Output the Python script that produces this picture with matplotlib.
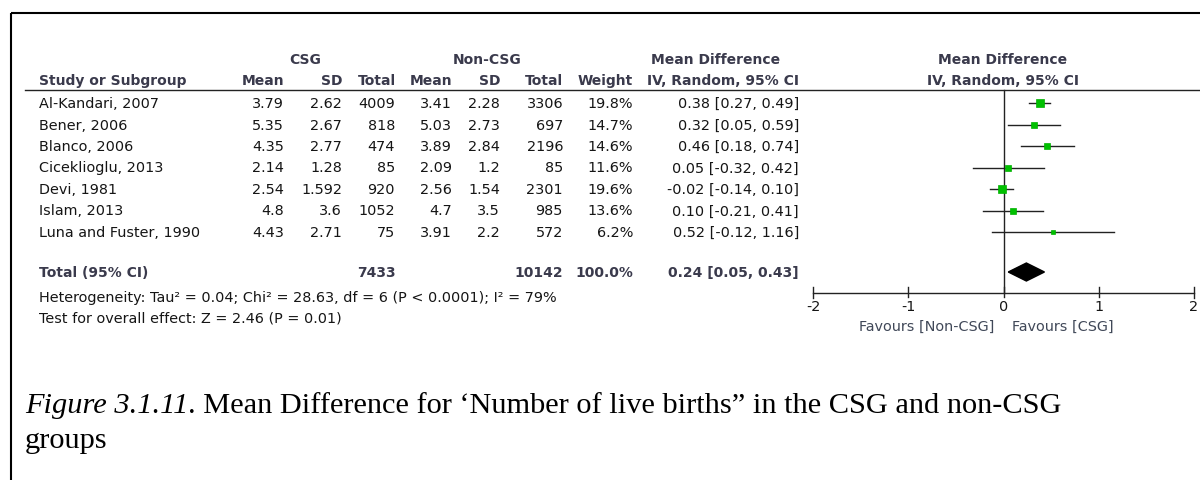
"""Forest plot: mean difference in number of live births, CSG vs non-CSG."""

import matplotlib
matplotlib.use("Agg")
import matplotlib.pyplot as plt
from matplotlib.patches import Polygon

# ---- data -------------------------------------------------------------
studies = [
    "Al-Kandari, 2007", "Bener, 2006", "Blanco, 2006", "Cicekliogu, 2013",
    "Devi, 1981", "Islam, 2013", "Luna and Fuster, 1990",
]
studies[3] = "Cicekliogl" + "u, 2013"
csg_mean = ["3.79", "5.35", "4.35", "2.14", "2.54", "4.8", "4.43"]
csg_sd = ["2.62", "2.67", "2.77", "1.28", "1.592", "3.6", "2.71"]
csg_n = [4009, 818, 474, 85, 920, 1052, 75]
non_mean = ["3.41", "5.03", "3.89", "2.09", "2.56", "4.7", "3.91"]
non_sd = ["2.28", "2.73", "2.84", "1.2", "1.54", "3.5", "2.2"]
non_n = [3306, 697, 2196, 85, 2301, 985, 572]
weight = [19.8, 14.7, 14.6, 11.6, 19.6, 13.6, 6.2]
md = [0.38, 0.32, 0.46, 0.05, -0.02, 0.10, 0.52]
lo = [0.27, 0.05, 0.18, -0.32, -0.14, -0.21, -0.12]
hi = [0.49, 0.59, 0.74, 0.42, 0.10, 0.41, 1.16]
total_csg, total_non = 7433, 10142
pooled, pooled_lo, pooled_hi = 0.24, 0.05, 0.43
x_ticks = [-2, -1, 0, 1, 2]

HEAD = "#3a3a4c"
TXT = "#151515"
SANS = "DejaVu Sans"

W, H = 1200, 481
fig = plt.figure(figsize=(W / 100, H / 100), dpi=100)
ax = fig.add_axes([0, 0, 1, 1])
ax.set_xlim(0, W)
ax.set_ylim(H, 0)
ax.axis("off")

# frame (top + left only, as in the document page)
ax.plot([11, W], [14, 14], color="black", lw=1.5, solid_capstyle="butt")
ax.plot([11, 11], [14, H], color="black", lw=1.5, solid_capstyle="butt")

fs = 10.4
hkw = dict(fontsize=10.0, fontweight="bold", color=HEAD, family=SANS, va="center")
# header row 1
ax.text(305, 60, "CSG", ha="center", **hkw)
ax.text(487, 60, "Non-CSG", ha="center", **hkw)
ax.text(716, 60, "Mean Difference", ha="center", **hkw)
ax.text(1003, 60, "Mean Difference", ha="center", **hkw)
# header row 2
ax.text(39, 81, "Study or Subgroup", ha="left", **hkw)
for x, s in [(284, "Mean"), (342, "SD"), (396, "Total"), (452, "Mean"),
             (500, "SD"), (563, "Total"), (633, "Weight"),
             (799, "IV, Random, 95% CI")]:
    ax.text(x, 81, s, ha="right", **hkw)
ax.text(1003, 81, "IV, Random, 95% CI", ha="center", **hkw)
ax.plot([25, W], [91, 91], color="#222222", lw=1.0)

# study rows
row_y = [104, 125.5, 147, 168.5, 190, 211.5, 233]
tkw = dict(fontsize=fs, color=TXT, family=SANS, va="center")
for i, y in enumerate(row_y):
    ax.text(39, y, studies[i], ha="left", **tkw)
    ax.text(284, y, csg_mean[i], ha="right", **tkw)
    ax.text(342, y, csg_sd[i], ha="right", **tkw)
    ax.text(395, y, str(csg_n[i]), ha="right", **tkw)
    ax.text(452, y, non_mean[i], ha="right", **tkw)
    ax.text(500, y, non_sd[i], ha="right", **tkw)
    ax.text(563, y, str(non_n[i]), ha="right", **tkw)
    ax.text(633, y, f"{weight[i]:.1f}%", ha="right", **tkw)
    ax.text(799, y, f"{md[i]:.2f} [{lo[i]:.2f}, {hi[i]:.2f}]", ha="right", **tkw)

# total row
ty = 273
ax.text(39, ty, "Total (95% CI)", ha="left", **hkw)
ax.text(396, ty, str(total_csg), ha="right", **hkw)
ax.text(563, ty, str(total_non), ha="right", **hkw)
ax.text(633, ty, "100.0%", ha="right", **hkw)
ax.text(799, ty, f"{pooled:.2f} [{pooled_lo:.2f}, {pooled_hi:.2f}]", ha="right", **hkw)

skw = dict(fontsize=fs, color=TXT, family=SANS, va="center", ha="left")
ax.text(39, 298, "Heterogeneity: Tau\u00b2 = 0.04; Chi\u00b2 = 28.63, df = 6 (P < 0.0001); I\u00b2 = 79%", **skw)
ax.text(39, 319, "Test for overall effect: Z = 2.46 (P = 0.01)", **skw)

# caption
ckw = dict(fontsize=21.9, color="black", family="Liberation Serif", va="center", ha="left")
cap = ax.text(25, 406, "Figure 3.1.11", style="italic", **ckw)
fig.canvas.draw()
bb = cap.get_window_extent().transformed(ax.transData.inverted())
ax.text(bb.x1, 406, ". Mean Difference for \u2018Number of live births\u201d in the CSG and non-CSG", **ckw)
ax.text(25, 441, "groups", **ckw)

# ---- forest panel: x in data units, y in page pixels ------------------
fx0, fx1 = 813, 1194
fa = fig.add_axes([fx0 / W, 0, (fx1 - fx0) / W, 1])
fa.set_xlim(x_ticks[0], x_ticks[-1])
fa.set_ylim(H, 0)
fa.axis("off")
fa.patch.set_alpha(0)

axis_y = 294
fa.plot([0, 0], [91, axis_y], color="#222222", lw=1.0)
for i, y in enumerate(row_y):
    fa.plot([lo[i], hi[i]], [y, y], color="#222222", lw=1.0)
    side = 2.2 + 0.3 * weight[i]
    fa.plot(md[i], y, marker="s", ms=side * 0.72, color="#00c000",
            mec="#00b000", mew=0.5, ls="none")
fa.add_patch(Polygon([(pooled_lo, ty), (pooled, ty - 9), (pooled_hi, ty),
                      (pooled, ty + 9)], closed=True, color="black"))

fa.plot([x_ticks[0], x_ticks[-1]], [axis_y, axis_y], color="#222222", lw=1.0,
        clip_on=False)
for t in x_ticks:
    end = t in (x_ticks[0], x_ticks[-1])
    fa.plot([t, t], [axis_y - 6, axis_y + (5 if end else 4)], color="#222222",
            lw=1.0, clip_on=False)
    fa.text(t, 307, f"{t:d}", ha="center", va="center", fontsize=fs,
            color=TXT, family=SANS, clip_on=False)
fkw = dict(fontsize=fs, color="#404858", family=SANS, va="center")
fa.text(-0.1, 327, "Favours [Non-CSG]", ha="right", **fkw)
fa.text(0.09, 327, "Favours [CSG]", ha="left", **fkw)

fig.savefig("out.png", dpi=100)
